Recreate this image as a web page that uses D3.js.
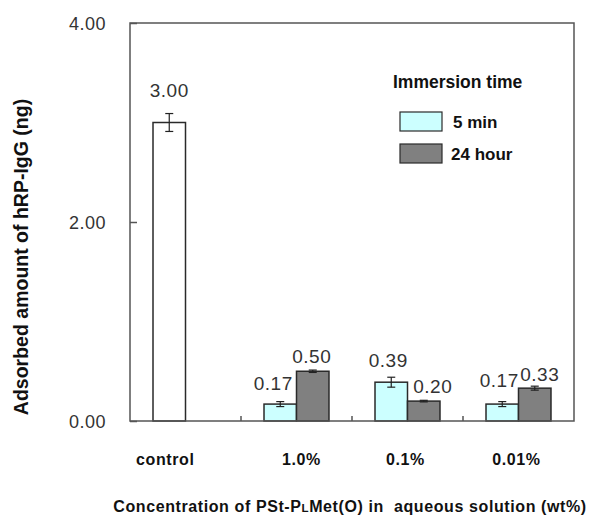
<!DOCTYPE html>
<html><head><meta charset="utf-8">
<script src="https://cdn.jsdelivr.net/npm/d3@7/dist/d3.min.js"></script>
<style>
html,body{margin:0;padding:0;background:#fff;}
svg{display:block;font-family:"Liberation Sans",Arial,sans-serif;}
</style></head>
<body><svg id="c" width="590" height="516"></svg>
<script>
// ---- data ----
const categories = ["control", "1.0%", "0.1%", "0.01%"];
const series = ["5 min", "24 hour"];
const values5min = [3.00, 0.17, 0.39, 0.17];
const values24hour = [null, 0.50, 0.20, 0.33];
const err5min = [0.09, 0.025, 0.05, 0.025];
const err24hour = [null, 0.012, 0.008, 0.02];
const yTicks = [0, 2, 4];
const yTickLabels = ["0.00", "2.00", "4.00"];
// label nudges [dx, dy] relative to the bar top centre (layout only)
const labelNudge5min = [[0, -26], [-7, -14], [-3, -15], [-3, -17]];
const labelNudge24hour = [null, [-1, -8], [9, -8], [5, -7]];

const svg = d3.select("#c");
const M = {l: 130, r: 574, t: 23, b: 421};
const y = d3.scaleLinear().domain([0, 4]).range([M.b, M.t]);
const x = d3.scaleBand().domain(categories).range([M.l, M.r]).padding(0);
const xs = d3.scaleBand().domain(series).range([0, x.bandwidth()]).paddingInner(0).paddingOuter(0.708);

const fills = {"5 min": "#ccffff", "24 hour": "#808080"};
const stroke = "#2a2a2a";

const rows = [];
categories.forEach((c, i) => {
  [[series[0], values5min[i], err5min[i], labelNudge5min[i]],
   [series[1], values24hour[i], err24hour[i], labelNudge24hour[i]]].forEach(([s, v, e, n]) => {
    if (v == null) return;
    rows.push({c, s, v, e, n, control: c === "control"});
  });
});

const g = svg.append("g");
// bars
g.selectAll("rect.bar").data(rows).join("rect")
  .attr("class", "bar")
  .attr("x", d => x(d.c) + xs(d.s))
  .attr("width", xs.bandwidth())
  .attr("y", d => y(d.v))
  .attr("height", d => y(0) - y(d.v))
  .attr("fill", d => d.control ? "#ffffff" : fills[d.s])
  .attr("stroke", stroke).attr("stroke-width", 1.5);

// error bars
const eb = g.selectAll("g.err").data(rows).join("g").attr("class", "err")
  .attr("stroke", "#222").attr("stroke-width", 1.2);
eb.append("line")
  .attr("x1", d => x(d.c) + xs(d.s) + xs.bandwidth() / 2)
  .attr("x2", d => x(d.c) + xs(d.s) + xs.bandwidth() / 2)
  .attr("y1", d => y(d.v + d.e)).attr("y2", d => y(d.v - d.e));
[1, -1].forEach(sg => {
  eb.append("line")
    .attr("x1", d => x(d.c) + xs(d.s) + xs.bandwidth() / 2 - 4)
    .attr("x2", d => x(d.c) + xs(d.s) + xs.bandwidth() / 2 + 4)
    .attr("y1", d => y(d.v + sg * d.e)).attr("y2", d => y(d.v + sg * d.e));
});

// value labels
g.selectAll("text.val").data(rows).join("text")
  .attr("class", "val")
  .attr("x", d => x(d.c) + xs(d.s) + xs.bandwidth() / 2 + d.n[0])
  .attr("y", d => y(d.v) + d.n[1])
  .attr("text-anchor", "middle")
  .attr("font-size", 19).attr("fill", "#333")
  .attr("letter-spacing", 0.5)
  .text(d => d.v.toFixed(2));

// frame
svg.append("rect").attr("x", M.l).attr("y", M.t)
  .attr("width", M.r - M.l).attr("height", M.b - M.t)
  .attr("fill", "none").attr("stroke", "#555").attr("stroke-width", 1.5);

// y axis (inward ticks)
const yAxis = d3.axisRight(y).tickValues(yTicks).tickSize(7).tickFormat("");
const ya = svg.append("g").attr("transform", `translate(${M.l},0)`).call(yAxis);
ya.select(".domain").remove();
ya.selectAll("line").attr("stroke", "#555").attr("stroke-width", 1.5);
svg.selectAll("text.ytl").data(yTicks).join("text").attr("class", "ytl")
  .attr("x", 106).attr("y", d => y(d) + 6.5)
  .attr("text-anchor", "end").attr("font-size", 18).attr("fill", "#333")
  .attr("letter-spacing", 0.5)
  .text((d, i) => yTickLabels[i]);

// x ticks (inward, at category boundaries)
const bounds = categories.slice(1).map(c => x(c));
svg.selectAll("line.xt").data(bounds).join("line").attr("class", "xt")
  .attr("x1", d => d).attr("x2", d => d)
  .attr("y1", M.b).attr("y2", M.b - 5)
  .attr("stroke", "#555").attr("stroke-width", 1.5);

// category labels
svg.selectAll("text.cat").data(categories).join("text").attr("class", "cat")
  .attr("x", (c, i) => c === "control" ? x(c) + xs(series[0]) + xs.bandwidth() / 2 - 4 : x(c) + x.bandwidth() / 2 + (i === 1 ? 5 : -2))
  .attr("y", 465)
  .attr("text-anchor", "middle").attr("font-size", 16).attr("font-weight", "bold")
  .attr("letter-spacing", 0.6)
  .attr("fill", "#111")
  .text(d => d);

// axis titles
const xt = svg.append("text").attr("x", 350).attr("y", 512)
  .attr("text-anchor", "middle").attr("font-size", 16).attr("font-weight", "bold")
  .attr("letter-spacing", 0.6).attr("fill", "#111");
xt.append("tspan").text("Concentration of PSt-P");
xt.append("tspan").attr("font-size", 11.5).text("L");
xt.append("tspan").text("Met(O) in \u00a0aqueous solution (wt%)");

svg.append("text")
  .attr("transform", "translate(28,257) rotate(-90)")
  .attr("text-anchor", "middle").attr("font-size", 19.5).attr("font-weight", "bold").attr("fill", "#111")
  .text("Adsorbed amount of hRP-IgG (ng)");

// legend
const lg = svg.append("g");
lg.append("text").attr("x", 393).attr("y", 88)
  .attr("font-size", 17.5).attr("font-weight", "bold").attr("fill", "#111").text("Immersion time");
series.forEach((s, i) => {
  lg.append("rect").attr("x", 400).attr("y", 112 + i * 32).attr("width", 42).attr("height", 19)
    .attr("fill", fills[s]).attr("stroke", stroke).attr("stroke-width", 1.2);
  lg.append("text").attr("x", 451 + (i === 0 ? 2 : 0)).attr("y", 128 + i * 32)
    .attr("font-size", 17).attr("font-weight", "bold").attr("fill", "#111").text(s);
});
</script>
</body></html>
